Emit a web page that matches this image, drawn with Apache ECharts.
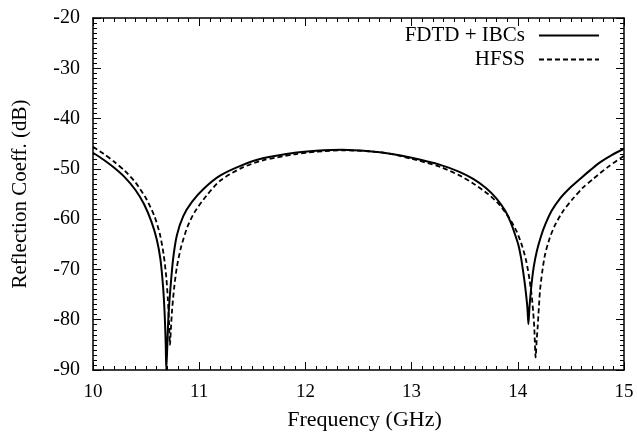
<!DOCTYPE html>
<html>
<head>
<meta charset="utf-8">
<script src="https://cdn.jsdelivr.net/npm/echarts@6/dist/echarts.min.js"></script>
<style>
html, body { margin: 0; padding: 0; background: #fff; }
#chart { width: 637px; height: 436px; }
</style>
</head>
<body>
<div id="chart"></div>
<script>
// FDTD + IBCs (solid)
const fdtdFreq = [10.00, 10.10, 10.20, 10.30, 10.40, 10.48, 10.55, 10.60, 10.635, 10.66, 10.675, 10.685, 10.69, 10.70, 10.71, 10.73, 10.755, 10.79, 10.85, 10.93, 11.05, 11.2, 11.4, 11.6, 11.9, 12.1, 12.35, 12.6, 12.8, 13.0, 13.27, 13.45, 13.58, 13.70, 13.80, 13.88, 13.93, 13.97, 14.005, 14.03, 14.05, 14.07, 14.09, 14.10, 14.11, 14.12, 14.13, 14.15, 14.18, 14.22, 14.256, 14.32, 14.397, 14.49, 14.586, 14.68, 14.774, 14.88, 15.0];
const fdtdDb = [-46.8, -48.2, -49.8, -51.7, -54.2, -57.0, -60.5, -64.0, -68.0, -73.5, -79.0, -85.0, -90.0, -85.0, -79.5, -73.5, -67.8, -63.2, -59.4, -56.6, -53.8, -51.3, -49.3, -47.9, -46.8, -46.4, -46.2, -46.5, -47.0, -47.8, -49.2, -50.6, -52.0, -53.8, -55.9, -58.3, -60.5, -62.8, -65.1, -67.6, -70.4, -73.5, -77.5, -80.9, -77.5, -75.0, -72.8, -69.5, -66.3, -63.3, -61.2, -58.3, -55.9, -53.8, -52.0, -50.3, -48.7, -47.3, -46.0];

// HFSS (dashed)
const hfssFreq = [10.00, 10.10, 10.20, 10.30, 10.40, 10.50, 10.58, 10.63, 10.665, 10.69, 10.705, 10.717, 10.725, 10.733, 10.745, 10.765, 10.79, 10.83, 10.89, 10.96, 11.07, 11.2, 11.4, 11.6, 11.9, 12.1, 12.35, 12.6, 12.8, 13.0, 13.27, 13.45, 13.58, 13.72, 13.83, 13.92, 13.99, 14.04, 14.08, 14.11, 14.13, 14.145, 14.155, 14.168, 14.178, 14.187, 14.20, 14.21, 14.23, 14.256, 14.30, 14.35, 14.43, 14.52, 14.61, 14.71, 14.85, 15.0];
const hfssDb = [-45.6, -47.0, -48.6, -50.4, -52.7, -55.9, -59.5, -63.0, -67.0, -71.5, -76.0, -81.0, -85.0, -82.0, -78.0, -73.5, -69.5, -65.5, -61.5, -58.5, -55.3, -52.3, -49.8, -48.3, -47.1, -46.6, -46.3, -46.5, -47.0, -48.0, -49.6, -51.3, -52.9, -55.0, -57.2, -59.8, -62.5, -65.3, -68.4, -72.0, -75.0, -78.5, -81.5, -87.5, -84.0, -81.5, -77.0, -74.0, -70.5, -67.1, -63.8, -61.2, -58.3, -55.9, -53.8, -52.0, -49.6, -47.4];

const xTicks = [10, 11, 12, 13, 14, 15];
const yTicks = [-90, -80, -70, -60, -50, -40, -30, -20];

const zip = (xs, ys) => xs.map((x, i) => [x, ys[i]]);

const font = 'Liberation Serif, Times New Roman, serif';
const frame = { show: true, lineStyle: { color: '#000', width: 1.5 } };

function xAxisBase(pos, labels) {
    return {
        type: 'value', position: pos,
        min: xTicks[0], max: xTicks[xTicks.length - 1], interval: 1,
        axisLine: frame,
        axisTick: { show: true, inside: true, length: 8, lineStyle: { color: '#000', width: 1 } },
        minorTick: { show: true, splitNumber: 10, length: 4, lineStyle: { color: '#000', width: 1 } },
        splitLine: { show: false },
        axisLabel: { show: labels, color: '#000', fontFamily: font, fontSize: 19, margin: 13 }
    };
}
function yAxisBase(pos, labels) {
    return {
        type: 'value', position: pos,
        min: yTicks[0], max: yTicks[yTicks.length - 1], interval: 10,
        axisLine: frame,
        axisTick: { show: true, inside: true, length: 8, lineStyle: { color: '#000', width: 1 } },
        minorTick: { show: true, splitNumber: 10, length: 4, lineStyle: { color: '#000', width: 1 } },
        splitLine: { show: false },
        axisLabel: { show: labels, color: '#000', fontFamily: font, fontSize: 20, margin: 13 }
    };
}

const chart = echarts.init(document.getElementById('chart'));
const xBottom = xAxisBase('bottom', true);
xBottom.name = 'Frequency (GHz)';
xBottom.nameLocation = 'middle';
xBottom.nameGap = 39;
xBottom.nameTextStyle = { color: '#000', fontFamily: font, fontSize: 22, padding: [0, 0, 0, 12] };
const yLeft = yAxisBase('left', true);
yLeft.name = 'Reflection Coeff. (dB)';
yLeft.nameLocation = 'middle';
yLeft.nameGap = 62;
yLeft.nameTextStyle = { color: '#000', fontFamily: font, fontSize: 21 };

chart.setOption({
    animation: false,
    backgroundColor: '#fff',
    grid: { left: 93, right: 13, top: 18, bottom: 63 },
    legend: {
        orient: 'vertical', right: 32, top: 20, align: 'right',
        itemWidth: 60, itemHeight: 14, itemGap: 3,
        itemStyle: { opacity: 0 },
        textStyle: { color: '#000', fontFamily: font, fontSize: 21, lineHeight: 18, padding: [0, 9, 0, 0] },
        data: ['FDTD + IBCs', 'HFSS']
    },
    xAxis: [xBottom, xAxisBase('top', false)],
    yAxis: [yLeft, yAxisBase('right', false)],
    series: [
        {
            name: 'FDTD + IBCs', type: 'line', showSymbol: false, symbol: 'none',
            smooth: 0.25, clip: true,
            lineStyle: { color: '#000', width: 2, type: 'solid' },
            itemStyle: { color: '#000' },
            data: zip(fdtdFreq, fdtdDb)
        },
        {
            name: 'HFSS', type: 'line', showSymbol: false, symbol: 'none',
            smooth: 0.25, clip: true,
            lineStyle: { color: '#000', width: 1.8, type: [5, 3] },
            itemStyle: { color: '#000' },
            data: zip(hfssFreq, hfssDb)
        }
    ]
});
</script>
</body>
</html>
